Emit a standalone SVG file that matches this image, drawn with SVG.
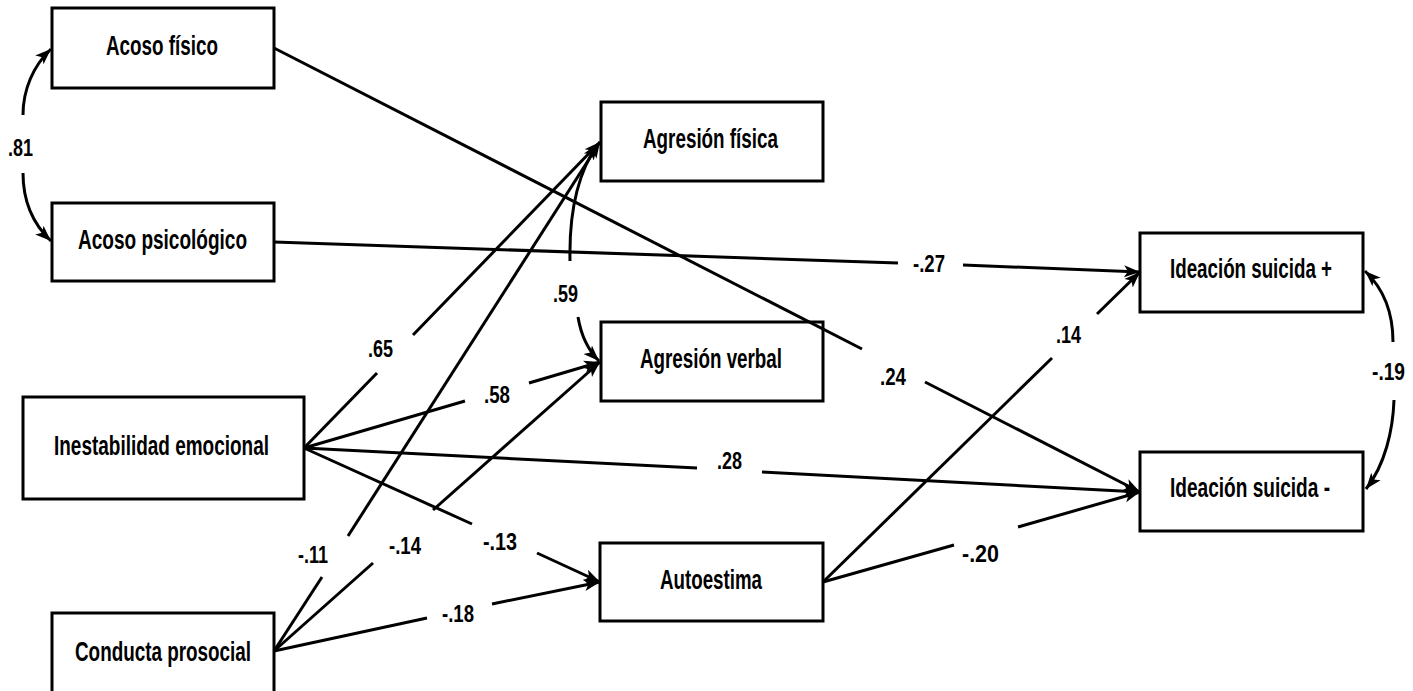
<svg xmlns="http://www.w3.org/2000/svg" width="1413" height="691" viewBox="0 0 1413 691">
<style>
.box{fill:#fff;stroke:#000;stroke-width:3}
.nt{font-family:"Liberation Sans",Arial,sans-serif;font-weight:bold;font-size:27px;fill:#000}
.lb{font-family:"Liberation Sans",Arial,sans-serif;font-weight:bold;font-size:24px;fill:#000}
.ln{fill:none;stroke:#000;stroke-width:3}
</style>
<defs>
<marker id="ah" markerUnits="userSpaceOnUse" markerWidth="18" markerHeight="14" refX="16" refY="6" orient="auto" viewBox="0 0 18 12">
<path d="M0,0 L16,6 L0,12 L4,6 z" fill="#000"/>
</marker>
</defs>
<rect width="1413" height="691" fill="#fff"/>
<g id="acoso-fisico">
<rect class="box" x="52" y="8" width="222" height="80"/>
<text class="nt" x="106" y="55" textLength="112" lengthAdjust="spacingAndGlyphs">Acoso físico</text>
</g>
<g id="acoso-psicologico">
<rect class="box" x="52" y="203" width="222" height="78"/>
<text class="nt" x="78" y="249" textLength="169" lengthAdjust="spacingAndGlyphs">Acoso psicológico</text>
</g>
<g id="inestabilidad">
<rect class="box" x="23" y="397" width="281" height="102"/>
<text class="nt" x="54" y="455" textLength="215" lengthAdjust="spacingAndGlyphs">Inestabilidad emocional</text>
</g>
<g id="conducta-prosocial">
<rect class="box" x="52" y="613" width="222" height="82"/>
<text class="nt" x="75" y="661" textLength="176" lengthAdjust="spacingAndGlyphs">Conducta prosocial</text>
</g>
<g id="agresion-fisica">
<rect class="box" x="601" y="102" width="222" height="79"/>
<text class="nt" x="643" y="148" textLength="135" lengthAdjust="spacingAndGlyphs">Agresión física</text>
</g>
<g id="agresion-verbal">
<rect class="box" x="601" y="322" width="222" height="79"/>
<text class="nt" x="640" y="368" textLength="142" lengthAdjust="spacingAndGlyphs">Agresión verbal</text>
</g>
<g id="autoestima">
<rect class="box" x="600" y="543" width="223" height="78"/>
<text class="nt" x="660" y="589" textLength="102" lengthAdjust="spacingAndGlyphs">Autoestima</text>
</g>
<g id="ideacion-pos">
<rect class="box" x="1140" y="233" width="223" height="79"/>
<text class="nt" x="1170" y="278" textLength="162" lengthAdjust="spacingAndGlyphs">Ideación suicida +</text>
</g>
<g id="ideacion-neg">
<rect class="box" x="1140" y="452" width="223" height="79"/>
<text class="nt" x="1170" y="497" textLength="160" lengthAdjust="spacingAndGlyphs">Ideación suicida -</text>
</g>
<g id="connectors">
<path class="ln" d="M274 48 L862 349"/>
<path class="ln" d="M925 382 L1140 492" marker-end="url(#ah)"/>
<path class="ln" d="M274 242 L898 263"/>
<path class="ln" d="M963 265 L1140 272" marker-end="url(#ah)"/>
<path class="ln" d="M304 448 L377 373"/>
<path class="ln" d="M413 335 L600 142" marker-end="url(#ah)"/>
<path class="ln" d="M304 448 L465 401"/>
<path class="ln" d="M529 383 L600 362" marker-end="url(#ah)"/>
<path class="ln" d="M304 448 L697 468"/>
<path class="ln" d="M762 472 L1140 492" marker-end="url(#ah)"/>
<path class="ln" d="M304 448 L472 524"/>
<path class="ln" d="M537 553 L600 582" marker-end="url(#ah)"/>
<path class="ln" d="M274 651 L322 577"/>
<path class="ln" d="M348 536 L600 142" marker-end="url(#ah)"/>
<path class="ln" d="M274 651 L373 563"/>
<path class="ln" d="M433 510 L600 362" marker-end="url(#ah)"/>
<path class="ln" d="M274 651 L427 618"/>
<path class="ln" d="M492 604 L600 582" marker-end="url(#ah)"/>
<path class="ln" d="M823 582 L1052 358"/>
<path class="ln" d="M1097 314 L1140 272" marker-end="url(#ah)"/>
<path class="ln" d="M823 582 L954 545"/>
<path class="ln" d="M1018 527 L1140 492" marker-end="url(#ah)"/>
<path class="ln" d="M23 115 C23 90 33 66 51 49" marker-end="url(#ah)"/>
<path class="ln" d="M23 173 C23 200 33 224 51 241" marker-end="url(#ah)"/>
<path class="ln" d="M570 261 C569 215 576 175 598 144" marker-end="url(#ah)"/>
<path class="ln" d="M578 317 C581 335 588 350 599 361" marker-end="url(#ah)"/>
<path class="ln" d="M1393 342 C1393 315 1385 290 1365 271" marker-end="url(#ah)"/>
<path class="ln" d="M1394 400 C1393 430 1385 465 1366 489" marker-end="url(#ah)"/>
</g>
<g id="labels">
<text class="lb" x="8" y="156" textLength="25" lengthAdjust="spacingAndGlyphs">.81</text>
<text class="lb" x="368" y="357" textLength="25" lengthAdjust="spacingAndGlyphs">.65</text>
<text class="lb" x="553" y="302" textLength="25" lengthAdjust="spacingAndGlyphs">.59</text>
<text class="lb" x="484" y="403" textLength="26" lengthAdjust="spacingAndGlyphs">.58</text>
<text class="lb" x="298" y="563" textLength="30" lengthAdjust="spacingAndGlyphs">-.11</text>
<text class="lb" x="389" y="554" textLength="32" lengthAdjust="spacingAndGlyphs">-.14</text>
<text class="lb" x="483" y="550" textLength="34" lengthAdjust="spacingAndGlyphs">-.13</text>
<text class="lb" x="442" y="622" textLength="32" lengthAdjust="spacingAndGlyphs">-.18</text>
<text class="lb" x="717" y="469" textLength="25" lengthAdjust="spacingAndGlyphs">.28</text>
<text class="lb" x="913" y="272" textLength="32" lengthAdjust="spacingAndGlyphs">-.27</text>
<text class="lb" x="1056" y="343" textLength="25" lengthAdjust="spacingAndGlyphs">.14</text>
<text class="lb" x="880" y="385" textLength="26" lengthAdjust="spacingAndGlyphs">.24</text>
<text class="lb" x="962" y="562" textLength="37" lengthAdjust="spacingAndGlyphs">-.20</text>
<text class="lb" x="1372" y="380" textLength="33" lengthAdjust="spacingAndGlyphs">-.19</text>
</g>
</svg>
